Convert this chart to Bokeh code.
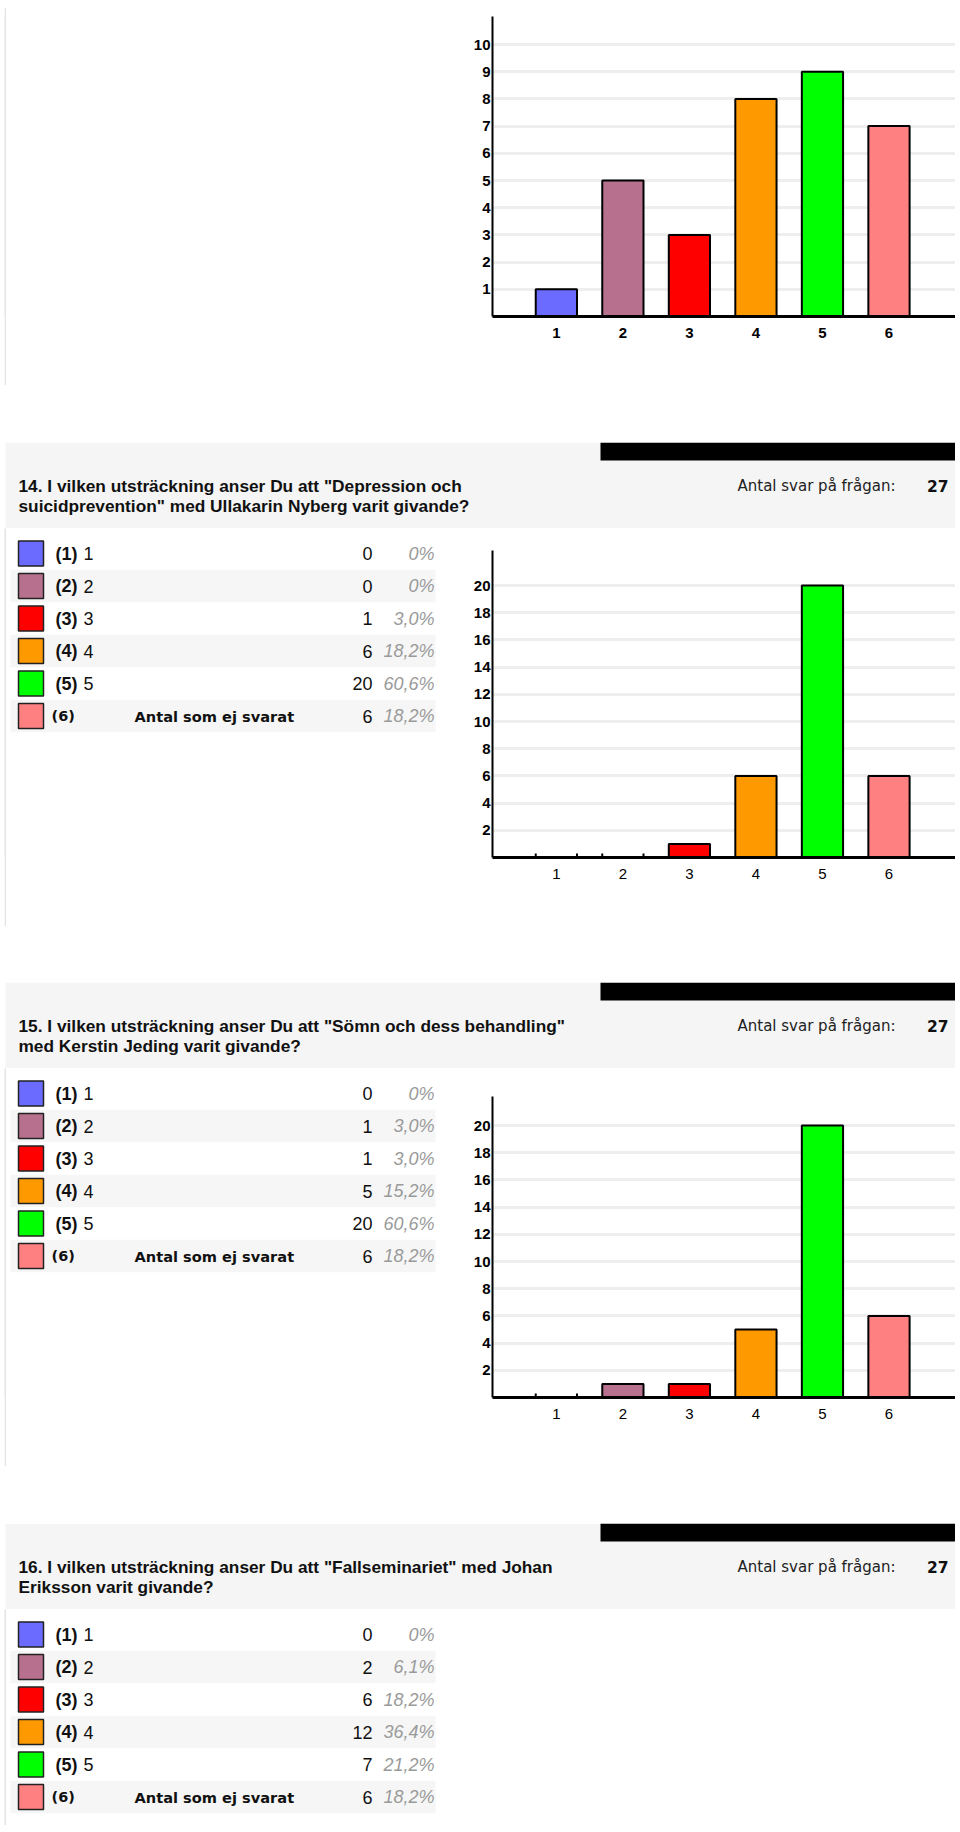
from bokeh.plotting import figure
from bokeh.layouts import column, row
from bokeh.models import Range1d, FixedTicker, ColumnDataSource
from bokeh.core.properties import value
from bokeh.embed import file_html
from bokeh.resources import INLINE

# ---------------- data ----------------
categories = ["1", "2", "3", "4", "5", "6"]
bar_colors = ["#6b6bff", "#b8708f", "#ff0000", "#ff9900", "#00ff00", "#ff8080"]
option_nums = ["(1)", "(2)", "(3)", "(4)", "(5)", "(6)"]
option_labels = ["1", "2", "3", "4", "5", "Antal som ej svarat"]
answer_label = "Antal svar på frågan:"

prev_counts = [1, 5, 3, 8, 9, 7]
prev_yticks = [1, 2, 3, 4, 5, 6, 7, 8, 9, 10]
prev_axis_top = 11.03

q_yticks = [2, 4, 6, 8, 10, 12, 14, 16, 18, 20]

q14_title = ["14. I vilken utsträckning anser Du att \"Depression och",
             "suicidprevention\" med Ullakarin Nyberg varit givande?"]
q14_counts = [0, 0, 1, 6, 20, 6]
q14_pct = ["0%", "0%", "3,0%", "18,2%", "60,6%", "18,2%"]
q14_answers = 27
q14_axis_top = 22.6

q15_title = ["15. I vilken utsträckning anser Du att \"Sömn och dess behandling\"",
             "med Kerstin Jeding varit givande?"]
q15_counts = [0, 1, 1, 5, 20, 6]
q15_pct = ["0%", "3,0%", "3,0%", "15,2%", "60,6%", "18,2%"]
q15_answers = 27
q15_axis_top = 22.1

q16_title = ["16. I vilken utsträckning anser Du att \"Fallseminariet\" med Johan",
             "Eriksson varit givande?"]
q16_counts = [0, 2, 6, 12, 7, 6]
q16_pct = ["0%", "6,1%", "18,2%", "36,4%", "21,2%", "18,2%"]
q16_answers = 27

# ---------------- layout constants (pixels) ----------------
W = 955
PAD = 4
VL = 2
LEFT_W = 454
CHART_W = W - PAD - VL - LEFT_W   # 495
BORDER = "#e4e4e4"
HEADER_H = 86
BODY_H = 398
CHART_BOTTOM = 69
ROW0 = 25
ROW_H = 32.5
X0, X1 = 0.04, 7.0
BAR_W = 0.62
UNIT_Q = 13.6          # px per count in question charts


def blank(w, h, bg="white", bottom=0):
    p = figure(width=w, height=h, x_range=Range1d(0, w), y_range=Range1d(h - bottom, 0),
               x_axis_type=None, y_axis_type=None, toolbar_location=None,
               output_backend="svg", title=None)
    p.min_border_left = 0
    p.min_border_right = 0
    p.min_border_top = 0
    p.min_border_bottom = bottom
    p.background_fill_color = bg
    p.border_fill_color = bg
    p.outline_line_color = None
    p.grid.visible = False
    return p


def hline():
    p = blank(W, 2)
    p.quad(left=[PAD], right=[W], top=[0], bottom=[2], fill_color=BORDER, line_color=None)
    return p


def vline(h, bottom=0):
    return blank(VL, h, BORDER, bottom)


def header_fig(title_lines, n_answers):
    p = blank(W, HEADER_H)
    p.quad(left=[PAD + 1], right=[W], top=[0], bottom=[HEADER_H], fill_color="#f5f5f5", line_color=None)
    p.quad(left=[600], right=[W], top=[0], bottom=[18], fill_color="black", line_color=None)
    p.text(x=[18, 18], y=[43, 63], text=title_lines, text_font=value("Liberation Sans"),
           text_font_size="17.3px", text_font_style="bold", text_color="#111111",
           text_baseline="middle", text_align="left")
    p.text(x=[895], y=[43], text=[answer_label], text_font=value("DejaVu Sans"),
           text_font_size="15px", text_color="#222222", text_baseline="middle", text_align="right")
    p.text(x=[948], y=[43], text=[str(n_answers)], text_font=value("DejaVu Sans"),
           text_font_size="15.5px", text_font_style="bold", text_color="#111111",
           text_baseline="middle", text_align="right")
    return p


def legend_fig(counts, pcts, h, bottom):
    p = blank(LEFT_W, h, "white", bottom)
    n = len(counts)
    ys = [ROW0 + ROW_H * i for i in range(n)]
    band_y = [ys[i] for i in range(n) if i % 2 == 1]
    p.rect(x=216.5, y=band_y, width=425, height=ROW_H, fill_color="#f6f6f6", line_color=None)
    p.rect(x=24.5, y=ys, width=25, height=25, fill_color=bar_colors[:n],
           line_color="#222222", line_width=1.5)
    main = list(range(n - 1))
    p.text(x=49, y=[ys[i] for i in main], text=[option_nums[i] for i in main],
           text_font=value("Liberation Sans"), text_font_size="18px", text_font_style="bold",
           text_color="#111111", text_baseline="middle", text_align="left")
    p.text(x=77, y=[ys[i] for i in main], text=[option_labels[i] for i in main],
           text_font=value("Liberation Sans"), text_font_size="18px",
           text_color="#111111", text_baseline="middle", text_align="left")
    last = n - 1
    p.text(x=45, y=[ys[last]], text=[option_nums[last]], text_font=value("DejaVu Sans"),
           text_font_size="14.5px", text_font_style="bold", text_color="#111111",
           text_baseline="middle", text_align="left")
    p.text(x=128, y=[ys[last]], text=[option_labels[last]], text_font=value("DejaVu Sans"),
           text_font_size="14.6px", text_font_style="bold", text_color="#111111",
           text_baseline="middle", text_align="left")
    p.text(x=366, y=ys, text=[str(c) for c in counts], text_font=value("Liberation Sans"),
           text_font_size="18px", text_color="#111111", text_baseline="middle", text_align="right")
    p.text(x=428, y=ys, text=pcts, text_font=value("Liberation Sans"),
           text_font_size="18px", text_font_style="italic", text_color="#9a9a9a",
           text_baseline="middle", text_align="right")
    return p


def bar_chart(vals, yticks, ymax, axis_top, h, top_pad, frame_h, xbold):
    xs = list(range(1, len(vals) + 1))
    p = figure(width=CHART_W, height=h, x_range=Range1d(X0, X1), y_range=Range1d(0, ymax),
               toolbar_location=None, output_backend="svg", title=None)
    p.min_border_left = 32
    p.min_border_right = 0
    p.min_border_top = top_pad
    p.min_border_bottom = h - top_pad - frame_h
    p.outline_line_color = None
    p.background_fill_color = "white"
    p.border_fill_color = "white"

    nz = [i for i, v in enumerate(vals) if v > 0]
    src = ColumnDataSource(dict(x=[xs[i] for i in nz], top=[vals[i] for i in nz],
                                color=[bar_colors[i] for i in nz]))
    p.xgrid.visible = False
    p.ygrid.ticker = FixedTicker(ticks=yticks)
    p.ygrid.grid_line_color = "#eeeeee"
    p.ygrid.grid_line_width = 3
    p.vbar(x="x", top="top", bottom=0, width=BAR_W, fill_color="color", line_color="black",
           line_width=2, source=src)

    z = [i for i, v in enumerate(vals) if v == 0]
    if z:
        zx = []
        for i in z:
            zx += [xs[i] - BAR_W / 2, xs[i] + BAR_W / 2]
        p.segment(x0=zx, x1=zx, y0=0, y1=0.3, line_color="black", line_width=2)

    p.yaxis.bounds = (0, axis_top)
    p.yaxis.ticker = FixedTicker(ticks=yticks)
    p.yaxis.major_tick_line_color = None
    p.yaxis.minor_tick_line_color = None
    p.yaxis.major_tick_out = 0
    p.yaxis.major_tick_in = 0
    p.yaxis.axis_line_width = 2
    p.yaxis.axis_line_color = "black"
    p.yaxis.major_label_standoff = 2
    p.yaxis.major_label_text_font = "Liberation Sans"
    p.yaxis.major_label_text_font_size = "15px"
    p.yaxis.major_label_text_font_style = "bold"
    p.yaxis.major_label_text_color = "black"

    p.xaxis.ticker = FixedTicker(ticks=xs)
    p.xaxis.major_label_overrides = {x: c for x, c in zip(xs, categories)}
    p.xaxis.major_tick_line_color = None
    p.xaxis.minor_tick_line_color = None
    p.xaxis.axis_line_width = 3
    p.xaxis.axis_line_color = "black"
    p.xaxis.major_label_standoff = 5
    p.xaxis.major_label_text_font = "Liberation Sans"
    p.xaxis.major_label_text_font_size = "15px"
    p.xaxis.major_label_text_font_style = "bold" if xbold else "normal"
    p.xaxis.major_label_text_color = "black"
    return p


def section(title, counts, pcts, answers, body_h, axis_top=None):
    parts = [header_fig(title, answers)]
    if axis_top is not None:
        frame_h = body_h - CHART_BOTTOM
        right = bar_chart(counts, q_yticks, frame_h / UNIT_Q, axis_top, body_h, 0, frame_h, False)
        bottom = CHART_BOTTOM
    else:
        right = blank(CHART_W, body_h)
        bottom = 0
    parts.append(row(blank(PAD, body_h, "white", bottom), vline(body_h, bottom),
                     legend_fig(counts, pcts, body_h, bottom), right, spacing=0))
    return parts


TOP_H = 378
top_box = row(blank(PAD, TOP_H, "white", 69), vline(TOP_H, 69), blank(LEFT_W, TOP_H, "white", 69),
              bar_chart(prev_counts, prev_yticks, prev_axis_top, prev_axis_top, TOP_H, 9, 300, True),
              spacing=0)

children = [blank(W, 5), hline(), top_box, hline(), blank(W, 55)]
children += section(q14_title, q14_counts, q14_pct, q14_answers, BODY_H, q14_axis_top)
children += [hline(), blank(W, 54)]
children += section(q15_title, q15_counts, q15_pct, q15_answers, BODY_H, q15_axis_top)
children += [hline(), blank(W, 55)]
children += section(q16_title, q16_counts, q16_pct, q16_answers, 216)
children += [hline()]

page = column(*children, spacing=0)

open("out.html", "w").write(file_html(page, INLINE))
